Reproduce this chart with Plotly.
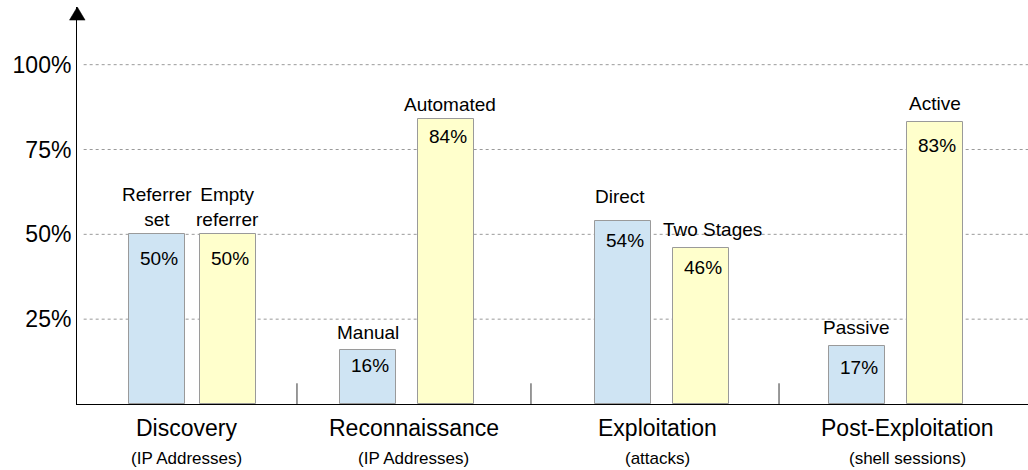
import plotly.graph_objects as go

# ---- data ----
categories = ["Discovery", "Reconnaissance", "Exploitation", "Post-Exploitation"]
subtitles = ["(IP Addresses)", "(IP Addresses)", "(attacks)", "(shell sessions)"]
first_labels = ["Referrer<br>set", "Manual", "Direct", "Passive"]
first_values = [50, 16, 54, 17]
second_labels = ["Empty<br>referrer", "Automated", "Two Stages", "Active"]
second_values = [50, 84, 46, 83]
y_ticks = [25, 50, 75, 100]
y_tick_text = ["25%", "50%", "75%", "100%"]

# ---- layout constants (positions / styles) ----
first_pos = [0.342, 1.244, 2.333, 3.333]
second_pos = [0.645, 1.577, 2.667, 3.667]
label_pos = [0.470, 1.44, 2.479, 3.551]
separators = [0.940, 1.940, 3.0]
bar_w = 0.239
BLUE = "#cfe4f3"
YELLOW = "#ffffcc"
EDGE = "#9a9a9a"
FONT = "Liberation Sans, Arial, sans-serif"

fig = go.Figure()
fig.add_trace(go.Bar(x=first_pos, y=first_values, width=bar_w,
                     marker=dict(color=BLUE, line=dict(color=EDGE, width=1)),
                     hoverinfo="skip"))
fig.add_trace(go.Bar(x=second_pos, y=second_values, width=bar_w,
                     marker=dict(color=YELLOW, line=dict(color=EDGE, width=1)),
                     hoverinfo="skip"))

annotations = []
label_dx_first = [0, 0, -3, 0]
label_dx_second = [0, 4, 11, 0]
label_dy_first = [2, 5, 12, 6]
label_dy_second = [2, 2, 6, 6]
pct_dy_first = [-12, -3, -7, -9]
pct_dy_second = [-12, -5, -7, -11]
for i in range(4):
    for pos, val, lab, dx, dy, pdy in (
            (first_pos[i], first_values[i], first_labels[i], label_dx_first[i], label_dy_first[i], pct_dy_first[i]),
            (second_pos[i], second_values[i], second_labels[i], label_dx_second[i], label_dy_second[i], pct_dy_second[i])):
        annotations.append(dict(x=pos, y=val, xref="x", yref="y", text=lab,
                                showarrow=False, yanchor="bottom", yshift=dy, xshift=dx,
                                font=dict(size=19, color="black", family=FONT)))
        annotations.append(dict(x=pos, y=val, xref="x", yref="y", text=f"{val}%",
                                showarrow=False, yanchor="top", yshift=pdy, xshift=2,
                                font=dict(size=19, color="black", family=FONT)))
    annotations.append(dict(x=label_pos[i], y=0, xref="x", yref="paper", text=categories[i],
                            showarrow=False, yanchor="middle", yshift=-24,
                            font=dict(size=23, color="black", family=FONT)))
    annotations.append(dict(x=label_pos[i], y=0, xref="x", yref="paper", text=subtitles[i],
                            showarrow=False, yanchor="middle", yshift=-54,
                            font=dict(size=17, color="black", family=FONT)))

shapes = []
for t in y_ticks:
    shapes.append(dict(type="line", xref="paper", yref="y", x0=0.007, x1=1, y0=t, y1=t,
                       line=dict(color="#9a9a9a", width=1, dash="3px,3px"), layer="below"))
for s in separators:
    shapes.append(dict(type="line", xref="x", yref="y", x0=s, x1=s, y0=0, y1=6.1,
                       line=dict(color="#333333", width=1)))
# arrow head on y axis
shapes.append(dict(type="path", xref="paper", yref="paper",
                   path="M -0.0079 0.967 L 0.0085 0.967 L 0.0003 1 Z",
                   fillcolor="black", line=dict(color="black", width=0.5)))

fig.update_layout(
    width=1028, height=470,
    margin=dict(l=77, r=0, t=7, b=66),
    plot_bgcolor="white", paper_bgcolor="white",
    showlegend=False,
    bargap=0,
    annotations=annotations,
    shapes=shapes,
    font=dict(family=FONT, color="black"),
    xaxis=dict(range=[0, 4.064], showgrid=False, zeroline=False, showticklabels=False,
               ticks="", showline=True, linecolor="black", linewidth=1, fixedrange=True),
    yaxis=dict(range=[0, 117], tickvals=y_ticks, ticktext=y_tick_text,
               showgrid=False, zeroline=False, showline=True, linecolor="black", linewidth=1,
               ticks="", ticklen=0, tickfont=dict(size=23, color="black", family=FONT),
               fixedrange=True),
)

fig.write_html("out.html", config={"displayModeBar": False},
               post_script="document.body.style.margin='0';document.body.style.padding='0';")
